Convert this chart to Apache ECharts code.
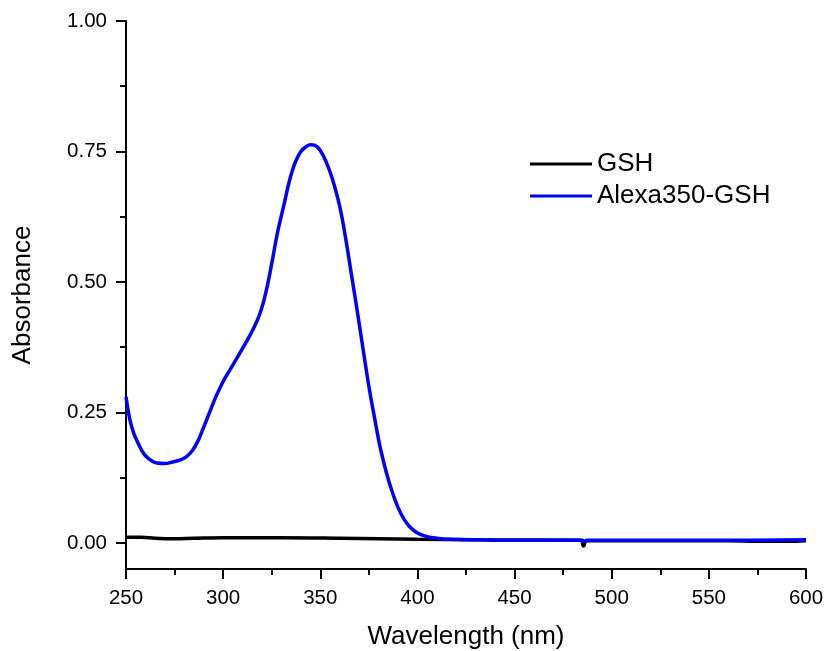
<!DOCTYPE html>
<html>
<head>
<meta charset="utf-8">
<script src="https://cdn.jsdelivr.net/npm/echarts@6/dist/echarts.min.js"></script>
<style>html,body{margin:0;padding:0;background:#fff}#chart{width:826px;height:651px}</style>
</head>
<body>
<div id="chart"></div>
<script>
var alexaX = [250, 252, 254, 256, 258, 260, 263, 266, 270, 274, 278, 281, 284, 287, 290, 293, 296, 298.5, 301, 305.5, 310.5, 315.5, 319, 322, 325, 328, 331.5, 334, 337, 340, 343, 345, 347, 350, 353, 356, 360, 363, 366, 369, 372, 375, 378, 381, 384, 387, 390, 393, 396, 400, 405, 410, 417, 430, 450, 485, 486, 487, 520, 560, 600];
var alexaY = [0.280, 0.236, 0.210, 0.193, 0.178, 0.167, 0.158, 0.153, 0.152, 0.155, 0.159, 0.165, 0.176, 0.195, 0.222, 0.250, 0.278, 0.298, 0.316, 0.344, 0.376, 0.410, 0.440, 0.480, 0.535, 0.595, 0.651, 0.692, 0.728, 0.750, 0.760, 0.763, 0.762, 0.752, 0.730, 0.700, 0.645, 0.585, 0.515, 0.445, 0.372, 0.300, 0.238, 0.180, 0.135, 0.098, 0.068, 0.046, 0.031, 0.019, 0.012, 0.009, 0.007, 0.006, 0.005, 0.005, 0.002, 0.005, 0.005, 0.005, 0.006];
var gshX = [250, 258, 265, 275, 285, 300, 330, 360, 400, 430, 484, 485.5, 487, 560, 575, 590, 600];
var gshY = [0.011, 0.011, 0.009, 0.008, 0.009, 0.010, 0.010, 0.009, 0.007, 0.006, 0.005, -0.006, 0.004, 0.004, 0.003, 0.003, 0.004];
var yMajorTicks = [0, 0.25, 0.5, 0.75, 1.0];
var yMinorTicks = [0.125, 0.375, 0.625, 0.875];

function pairs(xs, ys) {
  return xs.map(function (x, i) { return [x, ys[i]]; });
}

var chart = echarts.init(document.getElementById('chart'), null, {renderer: 'canvas'});
var font = 'Liberation Sans, Arial, sans-serif';
chart.setOption({
  animation: false,
  grid: {left: 126, right: 20, top: 21, bottom: 82, containLabel: false, outerBoundsMode: 'none'},
  legend: {
    orient: 'vertical', left: 525, top: 146, itemGap: 6,
    icon: 'rect', itemWidth: 62, itemHeight: 3,
    textStyle: {fontFamily: font, fontSize: 26, color: '#000'},
    data: ['GSH', 'Alexa350-GSH']
  },
  xAxis: {
    type: 'value', min: 250, max: 600, interval: 50,
    name: 'Wavelength (nm)', nameLocation: 'middle', nameGap: 55,
    nameTextStyle: {fontFamily: font, fontSize: 26, color: '#000'},
    axisLine: {onZero: false, lineStyle: {color: '#000', width: 2}},
    axisTick: {length: 10, lineStyle: {color: '#000', width: 2}},
    minorTick: {show: true, splitNumber: 2, length: 6, lineStyle: {color: '#000', width: 2}},
    axisLabel: {fontFamily: font, fontSize: 20.5, color: '#000', margin: 19},
    splitLine: {show: false}
  },
  yAxis: [{
    type: 'value', min: -0.05, max: 1.0,
    name: 'Absorbance', nameLocation: 'middle', nameGap: 90,
    nameTextStyle: {fontFamily: font, fontSize: 26, color: '#000'},
    axisLine: {show: true, onZero: false, lineStyle: {color: '#000', width: 2}},
    axisTick: {show: true, length: 10, customValues: yMajorTicks, lineStyle: {color: '#000', width: 2}},
    axisLabel: {fontFamily: font, fontSize: 20.5, color: '#000', margin: 19, customValues: yMajorTicks,
      formatter: function (v) { return v.toFixed(2); }},
    splitLine: {show: false}
  }, {
    type: 'value', min: -0.05, max: 1.0, position: 'left',
    axisLine: {show: false, onZero: false},
    axisTick: {show: true, length: 6, customValues: yMinorTicks, lineStyle: {color: '#000', width: 2}},
    axisLabel: {show: false},
    splitLine: {show: false}
  }],
  series: [{
    name: 'GSH', type: 'line', symbol: 'none', smooth: 0.4,
    data: pairs(gshX, gshY),
    itemStyle: {color: '#000'},
    lineStyle: {color: '#000', width: 3.5}
  }, {
    name: 'Alexa350-GSH', type: 'line', symbol: 'none', smooth: 0.4,
    data: pairs(alexaX, alexaY),
    itemStyle: {color: '#0000ff'},
    lineStyle: {color: '#0000ff', width: 3.5}
  }]
});
</script>
</body>
</html>
